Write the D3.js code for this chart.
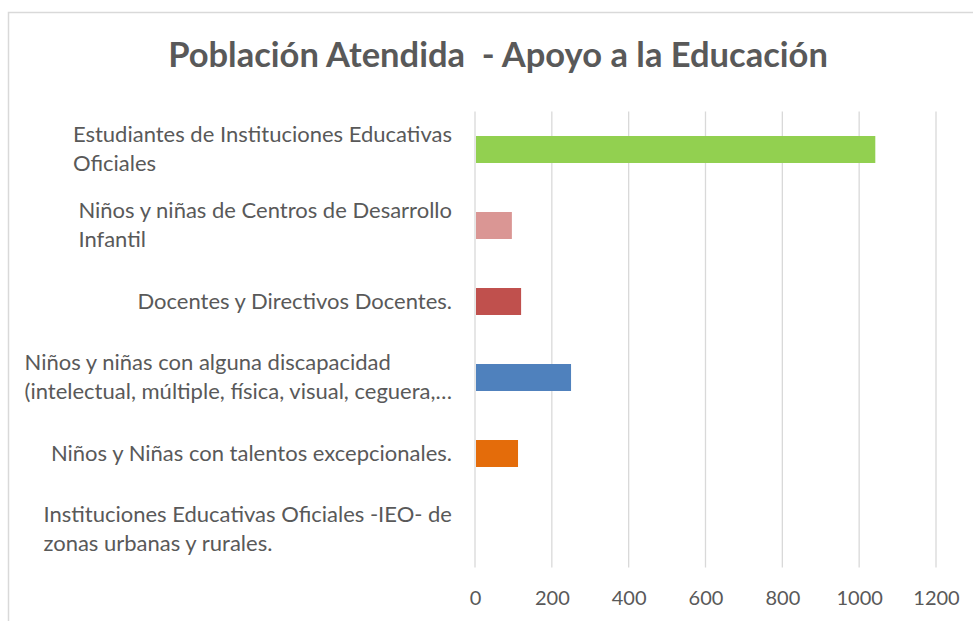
<!DOCTYPE html>
<html>
<head>
<meta charset="utf-8">
<script src="https://cdn.jsdelivr.net/npm/d3@7"></script>
<style>
  body { margin: 0; background: #fff; }
  text { font-family: Lato, "Open Sans", sans-serif; fill: #595959; }
</style>
</head>
<body>
<div class="chart"></div>
<script>
// data, top to bottom as in the picture
const categories = [
  ["Estudiantes de Instituciones Educativas", "Oficiales"],
  ["Niños y niñas de Centros de Desarrollo", "Infantil"],
  ["Docentes y Directivos Docentes."],
  ["Niños y niñas con alguna discapacidad", "(intelectual, múltiple, física, visual, ceguera,…"],
  ["Niños y Niñas con talentos excepcionales."],
  ["Instituciones Educativas Oficiales -IEO- de", "zonas urbanas y rurales."]
];
const values = [1042, 96, 120, 250, 112, 0];
const barColors = ["#92D050", "#DA9694", "#C0504D", "#4F81BD", "#E46C0A", "#4BACC6"];
const tickValues = [0, 200, 400, 600, 800, 1000, 1200];
const title = "Población Atendida  - Apoyo a la Educación";

const width = 973;
const height = 621;
const plot = {left: 475, right: 936, top: 111.5, bottom: 567.5};
const labelRight = 452;
const lineHeight = 28.5;

const svg = d3.select(".chart")
    .append("svg")
    .attr("width", width)
    .attr("height", height);

// chart frame
svg.append("rect")
    .attr("x", 8.5)
    .attr("y", 12.5)
    .attr("width", width)
    .attr("height", height)
    .attr("fill", "none")
    .attr("stroke", "#d9d9d9")
    .attr("stroke-width", 1.5);

svg.append("text")
    .attr("x", 498)
    .attr("y", 67)
    .attr("text-anchor", "middle")
    .style("font-size", "34.5px")
    .style("font-weight", "bold")
    .style("white-space", "pre")
    .attr("xml:space", "preserve")
    .text(title);

const x = d3.scaleLinear()
    .domain([0, 1200])
    .range([plot.left, plot.right]);

const y = d3.scaleBand()
    .domain(d3.range(categories.length))
    .range([plot.top, plot.bottom])
    .paddingInner(0.645)
    .paddingOuter(0.3225);

// gridlines
svg.append("g")
    .selectAll("line")
    .data(tickValues)
    .enter()
    .append("line")
    .attr("x1", d => x(d))
    .attr("x2", d => x(d))
    .attr("y1", plot.top)
    .attr("y2", plot.bottom)
    .attr("stroke", "#d9d9d9")
    .attr("stroke-width", 1.3);

// axis labels
const xAxis = svg.append("g")
    .attr("transform", `translate(0,${plot.bottom})`)
    .call(d3.axisBottom(x).tickValues(tickValues).tickFormat(d3.format("d")).tickSize(0).tickPadding(23));
xAxis.select(".domain").remove();
xAxis.selectAll("text")
    .attr("fill", "#595959")
    .style("font-size", "20px")
    .style("font-family", "Lato, 'Open Sans', sans-serif");

svg.append("g")
    .selectAll("rect")
    .data(values)
    .enter()
    .append("rect")
    .attr("x", x(0) + 1)
    .attr("y", (d, i) => y(i))
    .attr("width", d => Math.max(0, x(d) - x(0) - 1))
    .attr("height", y.bandwidth())
    .attr("fill", (d, i) => barColors[i]);

// category labels: block right-aligned, lines left-aligned
const labels = svg.append("g")
    .selectAll("text")
    .data(categories)
    .enter()
    .append("text")
    .style("font-size", "22px");

labels.selectAll("tspan")
    .data((d, i) => d.map((t, j) => ({t, j, n: d.length, i})))
    .enter()
    .append("tspan")
    .attr("y", d => y(d.i) + y.bandwidth() / 2 + 7 + (d.j - (d.n - 1) / 2) * lineHeight)
    .text(d => d.t);

labels.each(function() {
  const spans = d3.select(this).selectAll("tspan");
  let w = 0;
  spans.each(function() { w = Math.max(w, this.getComputedTextLength()); });
  spans.attr("x", labelRight - w);
});
</script>
</body>
</html>
